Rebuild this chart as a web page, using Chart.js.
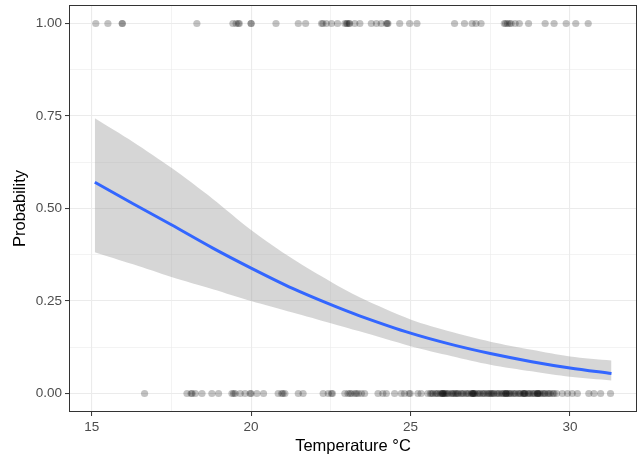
<!DOCTYPE html>
<html>
<head>
<meta charset="utf-8">
<script src="https://cdn.jsdelivr.net/npm/chart.js@4/dist/chart.umd.min.js"></script>
<style>
  html, body { margin: 0; padding: 0; background: #ffffff; }
  #wrap { width: 644px; height: 463px; }
</style>
</head>
<body>
<div id="wrap"><canvas id="prob-chart" width="644" height="463"></canvas></div>
<script>
// Observed temperatures (°C) - outcome = 1 (top row)
const tempsYes = [
  15.13, 15.51, 15.96, 15.96, 18.30,
  19.43, 19.53, 19.60, 19.63, 20.00, 20.00, 20.78, 21.48, 21.71,
  22.21, 22.25, 22.36, 22.52, 22.71, 22.94, 22.99, 23.02, 23.07, 23.09, 23.25, 23.41,
  23.77, 23.93, 24.08, 24.24, 24.27, 24.29, 24.66, 24.97, 25.20,
  26.38, 26.69, 26.93, 27.05, 27.21,
  27.94, 27.98, 28.04, 28.10, 28.15, 28.28, 28.41, 28.70,
  29.22, 29.50, 29.88, 30.18, 30.57
];

// Observed temperatures (°C) - outcome = 0 (bottom row)
const tempsNo = [
  16.66,
  17.99, 18.12, 18.15, 18.25, 18.46, 18.77, 18.98,
  19.40, 19.45, 19.50, 19.66, 19.81, 19.97, 20.00, 20.18, 20.39,
  20.85, 20.96, 21.00, 21.06, 21.48, 21.63,
  22.26, 22.42, 22.52, 22.55,
  22.94, 23.04, 23.10, 23.15, 23.25, 23.30, 23.36, 23.46, 23.56,
  23.98, 24.13, 24.24, 24.50, 24.71, 24.81, 24.95, 24.99,
  25.23, 25.33,
  25.54, 25.62, 25.70, 25.78, 25.86, 25.93, 26.00, 26.02, 26.05, 26.12,
  26.20, 26.28, 26.35, 26.43, 26.50, 26.58, 26.66, 26.74, 26.82, 26.90,
  26.95, 26.97, 27.03, 27.10, 27.18, 27.25, 27.33, 27.40, 27.48, 27.55,
  27.62, 27.70, 27.78, 27.85, 27.93, 27.98, 28.00, 28.08, 28.15, 28.22,
  28.30, 28.38, 28.45, 28.52, 28.56, 28.60, 28.68, 28.75, 28.82, 28.90,
  28.97, 29.00, 29.08, 29.15, 29.22, 29.30, 29.38, 29.46,
  25.66, 25.82, 25.97, 26.08, 26.16, 26.31, 26.47, 26.62, 26.78, 26.93,
  27.00, 27.14, 27.29, 27.44, 27.59, 27.74, 27.89, 28.03, 28.11, 28.26,
  28.41, 28.58, 28.71, 28.86, 28.99, 29.04, 29.19, 29.34,
  26.01, 26.40, 26.96, 27.52, 27.99, 28.55, 28.98, 29.50, 29.58,
  29.76, 29.92, 30.07, 30.23,
  30.59, 30.75, 30.96, 31.27
];

// Fitted curve + confidence band
const curveTemp = [15.1, 16.3, 17.5, 18.8, 20.0, 21.3, 22.5, 23.4, 25.0, 26.3, 27.5, 28.8, 30.0, 31.3];
const curveProb = [0.571, 0.513, 0.456, 0.393, 0.339, 0.284, 0.240, 0.210, 0.163, 0.132, 0.108, 0.086, 0.069, 0.054];
const ciLow     = [0.382, 0.349, 0.315, 0.282, 0.250, 0.219, 0.190, 0.168, 0.128, 0.101, 0.078, 0.060, 0.045, 0.035];
const ciHigh    = [0.744, 0.680, 0.610, 0.526, 0.442, 0.364, 0.302, 0.260, 0.200, 0.166, 0.140, 0.118, 0.100, 0.089];

// Axis ticks
const xMajor = [15, 20, 25, 30];
const xMinor = [17.5, 22.5, 27.5];
const yMajor = [0, 0.25, 0.5, 0.75, 1];
const yMinor = [0.125, 0.375, 0.625, 0.875];

const FONT = "'Liberation Sans', Arial, sans-serif";

const toPoints = (xs, ys) => xs.map((x, i) => ({ x: x, y: ys[i] }));

const isMajor = (list, v) => list.some(m => Math.abs(m - v) < 1e-6);

// ggplot-like panel border
const panelBorder = {
  id: 'panelBorder',
  afterDraw(chart) {
    const { ctx, chartArea } = chart;
    ctx.save();
    ctx.strokeStyle = '#333333';
    ctx.lineWidth = 1;
    ctx.strokeRect(chartArea.left + 0.5, chartArea.top + 0.5,
      chartArea.right - chartArea.left - 1, chartArea.bottom - chartArea.top - 1);
    ctx.restore();
  }
};

function gridOpts(major) {
  return {
    color: '#ebebeb',
    lineWidth: ctx => (ctx.tick && isMajor(major, ctx.tick.value)) ? 1.1 : 0.6,
    tickColor: ctx => (ctx.tick && isMajor(major, ctx.tick.value)) ? '#333333' : 'rgba(0,0,0,0)',
    tickLength: 4,
    tickWidth: 1,
    drawTicks: true
  };
}

new Chart(document.getElementById('prob-chart'), {
  type: 'scatter',
  data: {
    datasets: [
      {
        label: 'ci-low',
        data: toPoints(curveTemp, ciLow),
        showLine: true,
        borderWidth: 0,
        borderColor: 'rgba(0,0,0,0)',
        pointRadius: 0,
        tension: 0.3,
        fill: false,
        order: 3
      },
      {
        label: 'ci-high',
        data: toPoints(curveTemp, ciHigh),
        showLine: true,
        borderWidth: 0,
        borderColor: 'rgba(0,0,0,0)',
        backgroundColor: 'rgba(153,153,153,0.4)',
        pointRadius: 0,
        tension: 0.3,
        fill: '-1',
        order: 3
      },
      {
        label: 'fit',
        data: toPoints(curveTemp, curveProb),
        showLine: true,
        borderColor: '#3366FF',
        borderWidth: 3,
        pointRadius: 0,
        tension: 0.3,
        fill: false,
        order: 1
      },
      {
        label: 'yes',
        data: tempsYes.map(t => ({ x: t, y: 1 })),
        pointRadius: 3.6,
        pointBackgroundColor: 'rgba(0,0,0,0.24)',
        pointBorderWidth: 0,
        order: 2
      },
      {
        label: 'no',
        data: tempsNo.map(t => ({ x: t, y: 0 })),
        pointRadius: 3.6,
        pointBackgroundColor: 'rgba(0,0,0,0.24)',
        pointBorderWidth: 0,
        order: 2
      }
    ]
  },
  options: {
    responsive: false,
    animation: false,
    layout: { padding: { top: 5, right: 7, left: 0, bottom: 0 } },
    plugins: {
      legend: { display: false },
      tooltip: { enabled: false }
    },
    scales: {
      x: {
        type: 'linear',
        min: 14.29,
        max: 32.1,
        afterBuildTicks: axis => {
          axis.ticks = xMajor.concat(xMinor).sort((a, b) => a - b).map(v => ({ value: v }));
        },
        afterFit: axis => {
          axis.height = 51;
          axis.paddingLeft = 0;
          axis.paddingRight = 0;
        },
        grid: gridOpts(xMajor),
        border: { display: false },
        ticks: {
          autoSkip: false,
          maxRotation: 0,
          padding: 3,
          color: '#4d4d4d',
          font: { family: FONT, size: 13.5 },
          callback: v => isMajor(xMajor, v) ? String(v) : ''
        },
        title: {
          display: true,
          text: 'Temperature °C',
          color: '#000000',
          font: { family: FONT, size: 16.5 },
          padding: { top: 0, bottom: 7 }
        }
      },
      y: {
        type: 'linear',
        min: -0.05,
        max: 1.05,
        afterBuildTicks: axis => {
          axis.ticks = yMajor.concat(yMinor).sort((a, b) => a - b).map(v => ({ value: v }));
        },
        afterFit: axis => {
          axis.width = 69;
          axis.paddingTop = 0;
          axis.paddingBottom = 0;
        },
        grid: gridOpts(yMajor),
        border: { display: false },
        ticks: {
          autoSkip: false,
          padding: 3,
          color: '#4d4d4d',
          font: { family: FONT, size: 13.5 },
          callback: v => isMajor(yMajor, v) ? v.toFixed(2) : ''
        },
        title: {
          display: true,
          text: 'Probability',
          color: '#000000',
          font: { family: FONT, size: 16.5 },
          padding: { top: 11, bottom: 0 }
        }
      }
    }
  },
  plugins: [panelBorder]
});
</script>
</body>
</html>
